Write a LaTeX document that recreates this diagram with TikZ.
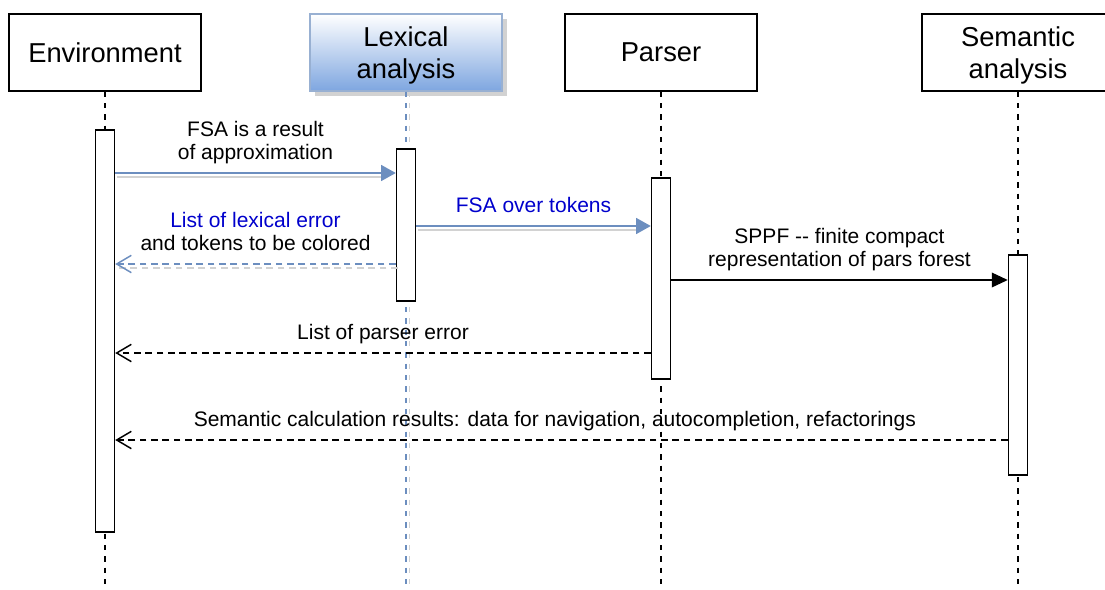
\documentclass[tikz,border=0pt]{standalone}
\usepackage{fontspec}
\setmainfont{Liberation Sans}
\usetikzlibrary{arrows.meta,shadows,calc}
\definecolor{drawblue}{HTML}{6C8EBF}
\definecolor{fillblue}{HTML}{7EA6E0}
\definecolor{msgblue}{HTML}{0000CC}
\tikzset{
	actor/.style={draw,line width=1.1pt,minimum width=144pt,minimum height=57.75pt,align=center,font=\fontsize{20.5}{24}\selectfont},
	twoline/.style={text depth=-2pt},
	bar/.style={draw,fill=white,line width=1.1pt,minimum width=14.25pt,inner sep=0pt},
	lifeline/.style={line width=1.1pt,dash pattern=on 4pt off 4.5pt},
	msg/.style={line width=1.1pt},
	reply/.style={line width=1.1pt,dash pattern=on 5pt off 3.5pt,-{Straight Barb[length=11pt,width=13pt,line width=1.1pt]}},
	lbl/.style={font=\fontsize{15.75}{17.6}\selectfont,align=center,text depth=0pt,inner sep=0pt,above=9.5pt},
	ghost/.style={line width=1.1pt,gray!35},
}
\begin{document}
\begin{tikzpicture}[x=0.75pt,y=-0.75pt]
	\useasboundingbox (0,0) rectangle (1105,589);
	\coordinate (bottom) at (0,589);
	% actors
	\node[actor] (env) at (105,52.5) {Environment};
	\node[actor,twoline,draw=drawblue!70,top color=white,bottom color=fillblue,
		drop shadow={shadow xshift=4pt,shadow yshift=-4pt,fill=gray!35,opacity=1}] (lex) at (406,52.5) {Lexical\\analysis};
	\node[actor] (parser) at (661,52.5) {Parser};
	\node[actor,twoline] (sem) at (1018,52.5) {Semantic\\analysis};
	% lifelines
	\draw[lifeline] (env.south) -- (env.south |- bottom);
	\draw[lifeline,gray!35] ([xshift=2.5pt]lex.south) -- ([xshift=2.5pt]lex.south |- bottom);
	\draw[lifeline,drawblue] (lex.south) -- (lex.south |- bottom);
	\draw[lifeline] (parser.south) -- (parser.south |- bottom);
	\draw[lifeline] (sem.south) -- (sem.south |- bottom);
	% activations
	\node[bar,minimum height=301.5pt] (envbar) at (env |- 0,331) {};
	\node[bar,minimum height=114pt] (lexbar) at (lex |- 0,225) {};
	\node[bar,minimum height=150.75pt] (parserbar) at (parser |- 0,278.5) {};
	\node[bar,minimum height=165pt] (sembar) at (sem |- 0,365) {};
	% messages
	\coordinate (m1) at (0,173);
	\coordinate (m2) at (0,264);
	\coordinate (m3) at (0,226);
	\coordinate (m4) at (0,280);
	\coordinate (m5) at (0,353);
	\coordinate (m6) at (0,440);
	\draw[ghost] ($(envbar.east |- m1)+(2,4)$) -- ($(lexbar.west |- m1)+(-15,4)$);
	\draw[msg,drawblue,-{Triangle[length=11pt,width=12pt]}] (envbar.east |- m1) -- node[lbl,black] {FSA is a result\\of approximation} (lexbar.west |- m1);
	\draw[ghost,dash pattern=on 5pt off 3.5pt] ($(lexbar.west |- m2)+(2,4)$) -- ($(envbar.east |- m2)+(2,4)$);
	\draw[reply,drawblue] (lexbar.west |- m2) -- node[lbl,black] {{\color{msgblue}List of lexical error}\\and tokens to be colored} (envbar.east |- m2);
	\draw[ghost] ($(lexbar.east |- m3)+(2,4)$) -- ($(parserbar.west |- m3)+(-15,4)$);
	\draw[msg,drawblue,-{Triangle[length=11pt,width=12pt]}] (lexbar.east |- m3) -- node[lbl,msgblue] {FSA over tokens} (parserbar.west |- m3);
	\draw[msg,-{Triangle[length=12pt,width=11pt]}] (parserbar.east |- m4) -- node[lbl] {SPPF -{}- finite compact\\representation of pars forest} (sembar.west |- m4);
	\draw[reply] (parserbar.west |- m5) -- node[lbl] {List of parser error} (envbar.east |- m5);
	\draw[reply] (sembar.west |- m6) -- node[lbl,xshift=-5pt] {Semantic calculation results: data for navigation, autocompletion, refactorings} (envbar.east |- m6);
\end{tikzpicture}
\end{document}
